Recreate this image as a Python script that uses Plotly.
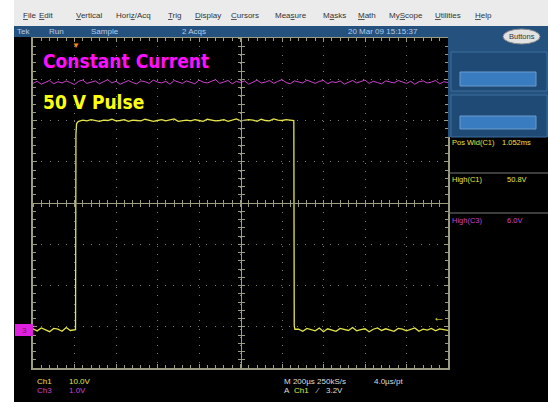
import plotly.graph_objects as go

# ---------------- data (read from the scope screen) ----------------
# time in microseconds from the left edge of the screen (200 us/div, 10 div)
ch1_low1_t = list(range(0, 201, 20))
ch1_low1_v = [0.3, -0.2, 0.5, 0.0, -0.4, 0.4, 0.2, -0.3, 0.6, -0.1, 0.2]
ch1_rise_t = [205, 207, 210, 215]
ch1_rise_v = [0.1, 47.5, 50.0, 50.4]
ch1_high_t = list(range(220, 1241, 20))
ch1_high_v = [50.6, 50.9, 50.7, 51.0, 50.8, 50.6, 50.9, 50.8, 51.1, 50.7,
              50.8, 51.0, 50.6, 50.9, 50.8, 50.7, 51.1, 50.9, 50.6, 50.8,
              51.0, 50.7, 50.9, 51.2, 50.6, 50.8, 50.9, 50.7, 51.0, 50.8,
              50.6, 51.1, 50.9, 50.7, 50.8, 51.0, 50.6, 50.9, 51.2, 50.7,
              50.8, 51.0, 50.9, 50.6, 51.1, 50.8, 50.7, 51.2, 50.9, 50.8,
              51.0, 50.9]
ch1_fall_t = [1250, 1257, 1259, 1262]
ch1_fall_v = [51.0, 50.8, 1.0, 0.2]
ch1_low2_t = list(range(1280, 2001, 20))
ch1_low2_v = [0.2, -0.3, 0.4, 0.1, -0.2, 0.5, -0.4, 0.3, 0.0, -0.3,
              0.4, 0.2, -0.1, 0.6, -0.2, 0.1, 0.3, -0.4, 0.2, 0.5,
              -0.1, 0.3, 0.0, -0.3, 0.4, 0.2, -0.2, 0.1, 0.5, -0.3,
              0.2, 0.0, 0.4, -0.2, 0.3, 0.1, -0.1]

ch3_t = list(range(0, 2001, 20))
ch3_v = [5.98, 6.03, 5.96, 6.01, 6.05, 5.97, 6.02, 5.99, 6.04, 6.00,
         5.95, 6.03, 6.06, 5.98, 6.01, 6.04, 5.97, 6.02, 6.07, 5.99,
         6.03, 5.96, 6.01, 6.05, 6.00, 5.97, 6.04, 6.02, 5.98, 6.06,
         6.01, 5.99, 6.03, 5.96, 6.05, 6.02, 5.98, 6.04, 6.00, 5.97,
         6.06, 6.01, 5.99, 6.03, 6.07, 5.98, 6.02, 6.05, 5.97, 6.03,
         6.00, 6.04, 5.96, 6.02, 6.06, 5.99, 6.01, 6.05, 5.98, 6.03,
         6.07, 6.00, 5.97, 6.04, 6.02, 5.99, 6.06, 6.01, 5.98, 6.03,
         6.05, 5.97, 6.02, 6.00, 6.04, 5.96, 6.01, 6.05, 5.99, 6.02,
         6.06, 5.98, 6.03, 6.00, 5.97, 6.04, 6.02, 5.99, 6.05, 6.01,
         5.98, 6.03, 5.96, 6.02, 6.04, 5.99, 6.01, 6.05, 5.97, 6.02,
         6.00]

trigger_time = 207      # us
trigger_level = 3.2     # V on Ch1

ch1_t = ch1_low1_t + ch1_rise_t + ch1_high_t + ch1_fall_t + ch1_low2_t
ch1_v = ch1_low1_v + ch1_rise_v + ch1_high_v + ch1_fall_v + ch1_low2_v

menu_items = ["<u>F</u>ile", "<u>E</u>dit", "<u>V</u>ertical", "Hori<u>z</u>/Acq",
              "<u>T</u>rig", "<u>D</u>isplay", "<u>C</u>ursors", "Mea<u>s</u>ure",
              "M<u>a</u>sks", "<u>M</u>ath", "My<u>S</u>cope", "<u>U</u>tilities", "<u>H</u>elp"]
menu_x = [21, 37, 74, 114, 166, 193, 229, 273, 321, 356, 387, 433, 473]

status_items = ["Tek", "Run", "Sample", "2 Acqs", "20 Mar 09 15:15:37"]
status_x = [15, 47, 89, 180, 346]

# ---------------- layout helpers ----------------
L, T, W, H = 33, 38, 415, 330


def PX(x):
    return (x - L) / W


def PY(y):
    return (T + H - y) / H


X_RANGE = [0, 2000]
Y1_RANGE = [-9.2, 70.8]
Y3_RANGE = [-0.92, 7.08]

YEL = "#e4e44c"
MAG = "#cc44cc"
FRAME = "#9c9c80"
GRID = "#7a7a7a"
UI = "Liberation Sans, Arial, sans-serif"

fig = go.Figure()

fig.add_trace(go.Scatter(x=ch3_t, y=ch3_v, mode="lines", yaxis="y2",
                         line=dict(color=MAG, width=1), hoverinfo="skip"))
fig.add_trace(go.Scatter(x=ch1_t, y=ch1_v, mode="lines",
                         line=dict(color=YEL, width=1.3), hoverinfo="skip"))
# carriers for the centre cross-hair axes
for xa, ya in [("x2", "y"), ("x3", "y"), ("x", "y3"), ("x", "y4")]:
    fig.add_trace(go.Scatter(x=[None], y=[None], xaxis=xa, yaxis=ya,
                             mode="lines", hoverinfo="skip"))

shapes = []


def rect(x0, y0, x1, y1, fill, line=None, lw=0, layer="below"):
    shapes.append(dict(type="rect", xref="paper", yref="paper",
                       x0=PX(x0), x1=PX(x1), y0=PY(y1), y1=PY(y0),
                       fillcolor=fill, line=dict(color=line or fill, width=lw),
                       layer=layer))


def hline(x0, x1, y, color, lw=1):
    shapes.append(dict(type="line", xref="paper", yref="paper",
                       x0=PX(x0), x1=PX(x1), y0=PY(y), y1=PY(y),
                       line=dict(color=color, width=lw), layer="above"))


rect(0, 0, 14, 402, "white", layer="above")
rect(14, 0, 548, 26, "#ebebeb", layer="above")
rect(14, 26, 548, 37, "#24517e", layer="above")
rect(448, 37, 548, 137, "#24517e", layer="above")
rect(451, 52, 547, 91, "#1f4a75", line="#3f6e9c", lw=1, layer="above")
rect(460, 72, 536, 86, "#3a7cc0", line="#6a9ccf", lw=1, layer="above")
rect(451, 95, 547, 137, "#1f4a75", line="#3f6e9c", lw=1, layer="above")
rect(460, 116, 536, 129, "#3a7cc0", line="#6a9ccf", lw=1, layer="above")
shapes.append(dict(type="circle", xref="paper", yref="paper",
                   x0=PX(503), x1=PX(540), y0=PY(44), y1=PY(29),
                   fillcolor="#e2e2e2", line=dict(color="#888888", width=1),
                   layer="above"))
hline(448, 548, 173, "#7a7a7a")
hline(448, 548, 213, "#7a7a7a")
# ground marker for Ch3 / Ch1
rect(15, 324, 33, 336, "#e020e0", layer="above")

ann = []


def txt(x, y, s, color, size=8, anchor="left", family=UI, xref="paper", yref="paper"):
    ann.append(dict(x=PX(x) if xref == "paper" else x,
                    y=PY(y) if yref == "paper" else y,
                    xref=xref, yref=yref, text=s, showarrow=False,
                    xanchor=anchor, yanchor="middle",
                    font=dict(color=color, size=size, family=family)))


for s, x in zip(menu_items, menu_x):
    txt(x, 15, s, "#333333", 8)
for s, x in zip(status_items, status_x):
    txt(x, 31.5, s, "#b9cde8", 8)
txt(521.5, 36.5, "Buttons", "#333333", 7.5, anchor="center")

txt(450, 142, "Pos Wid(C1)", YEL, 7.5)
txt(500, 142, "1.052ms", YEL, 7.5)
txt(450, 179, "High(C1)", YEL, 7.5)
txt(505, 179, "50.8V", YEL, 7.5)
txt(450, 220, "High(C3)", MAG, 7.5)
txt(505, 220, "6.0V", MAG, 7.5)

txt(35, 381, "Ch1", YEL, 8)
txt(67, 381, "10.0V", YEL, 8)
txt(35, 390, "Ch3", MAG, 8)
txt(67, 390, "1.0V", MAG, 8)
txt(282, 381, "M 200\u00b5s 250kS/s", "#dddddd", 8)
txt(372, 381, "4.0\u00b5s/pt", "#dddddd", 8)
txt(282, 390, "A", "#dddddd", 8)
txt(292, 390, "Ch1", YEL, 8)
txt(313, 390, "\u2044", "#dddddd", 8)
txt(324, 390, "3.2V", "#dddddd", 8)

txt(24, 330, "3", "#602060", 8, anchor="center")

BIG = "Liberation Sans Narrow, DejaVu Sans Condensed, sans-serif"
txt(41, 61, "<b>Constant Current</b>", "#ff10ff", 19, family=BIG)
txt(41, 102, "<b>50 V Pulse</b>", "#ffff10", 19, family=BIG)

# trigger position marker (top) and trigger level marker (right)
ann.append(dict(x=trigger_time, y=1.0, xref="x", yref="paper", text="\u25bc",
                showarrow=False, xanchor="center", yanchor="top", yshift=0,
                borderpad=0,
                font=dict(color="#ff8a20", size=8)))
ann.append(dict(x=PX(447), y=trigger_level, xref="paper", yref="y", text="<b>\u2190</b>",
                showarrow=False, xanchor="right", yanchor="middle",
                font=dict(color=YEL, size=12)))

axis_common = dict(showticklabels=False, zeroline=False, fixedrange=True)

fig.update_layout(
    width=548, height=402,
    margin=dict(l=L, r=548 - L - W, t=T, b=402 - T - H),
    paper_bgcolor="black", plot_bgcolor="black",
    showlegend=False,
    shapes=shapes, annotations=ann,
    xaxis=dict(range=X_RANGE, dtick=200, tick0=0, showgrid=True,
               gridcolor=GRID, griddash="1px,7.3px", gridwidth=1,
               showline=True, linecolor=FRAME, linewidth=1.5, mirror="ticks",
               ticks="inside", ticklen=4, tickcolor=FRAME,
               minor=dict(dtick=40, tick0=0, ticks="inside", ticklen=3,
                          tickcolor=FRAME, showgrid=False),
               **axis_common),
    yaxis=dict(range=Y1_RANGE, dtick=10, tick0=-9.2, showgrid=True,
               gridcolor=GRID, griddash="1px,7.25px", gridwidth=1,
               showline=True, linecolor=FRAME, linewidth=1.5, mirror="ticks",
               ticks="inside", ticklen=4, tickcolor=FRAME,
               minor=dict(dtick=2, tick0=-9.2, ticks="inside", ticklen=3,
                          tickcolor=FRAME, showgrid=False),
               **axis_common),
    yaxis2=dict(range=Y3_RANGE, overlaying="y", showgrid=False, showline=False,
                ticks="", **axis_common),
    xaxis2=dict(range=X_RANGE, overlaying="x", anchor="free", position=0.5,
                showgrid=False, showline=True, linecolor=FRAME, linewidth=1,
                ticks="outside", ticklen=3, dtick=40, tick0=0, tickcolor=FRAME,
                **axis_common),
    xaxis3=dict(range=X_RANGE, overlaying="x", anchor="free", position=0.5,
                showgrid=False, showline=False,
                ticks="inside", ticklen=3, dtick=40, tick0=0, tickcolor=FRAME,
                **axis_common),
    yaxis3=dict(range=Y1_RANGE, overlaying="y", anchor="free", position=0.5,
                showgrid=False, showline=True, linecolor=FRAME, linewidth=1,
                ticks="outside", ticklen=3, dtick=2, tick0=-9.2, tickcolor=FRAME,
                **axis_common),
    yaxis4=dict(range=Y1_RANGE, overlaying="y", anchor="free", position=0.5,
                showgrid=False, showline=False,
                ticks="inside", ticklen=3, dtick=2, tick0=-9.2, tickcolor=FRAME,
                **axis_common),
)

fig.write_html("out.html", config={"displayModeBar": False},
               post_script="document.body.style.margin='0';document.body.style.padding='0';")
